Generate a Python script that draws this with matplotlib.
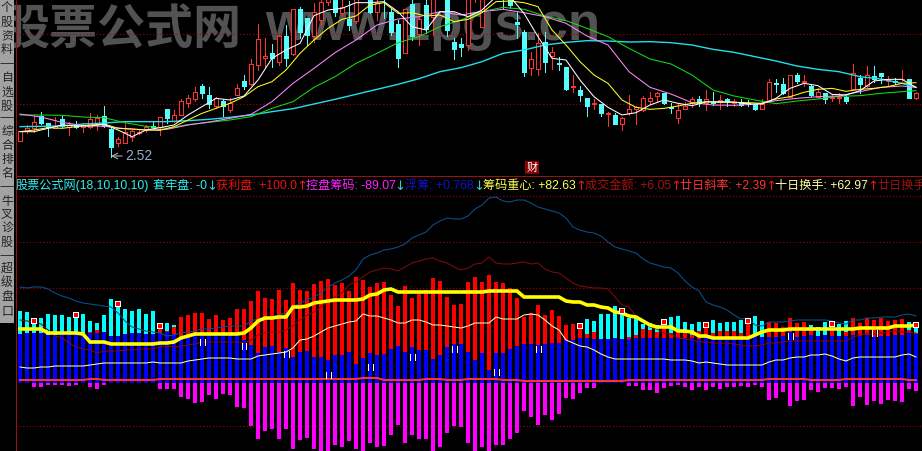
import numpy as np
import matplotlib
matplotlib.use('Agg')
import matplotlib.pyplot as plt

plt.rcParams['font.family'] = ['Liberation Sans', 'Noto Sans CJK SC', 'DejaVu Sans']

# upper panel, candles (1 unit = 1/3 px, clipped at 510 like the screen)
openP = [88,118,125,163,140,125,153,129,135,130,128,140,161,123,80,82,100,112,120,132,130,182,148,165,200,213,252,224,193,206,
         180,225,267,258,315,335,351,325,402,347,482,455,403,450,505,520,472,453,448,530,520,475,530,475,438,352,498,408,495,460,
         540,520,385,378,375,520,430,550,570,540,520,444,415,305,303,384,343,320,310,250,240,216,198,197,167,165,138,170,182,180,
         208,223,230,188,157,184,200,213,200,205,205,213,202,205,202,197,184,207,260,258,220,285,265,253,220,230,217,215,220,244,
         277,252,281,290,267,267,272,273,217]
closeP = [118,125,145,140,130,132,132,134,128,134,152,156,132,70,93,113,118,114,128,128,160,157,164,206,215,233,232,199,216,193,
          200,247,253,317,392,341,337,402,337,482,415,405,473,503,518,475,488,435,520,550,475,500,515,415,337,482,402,452,423,530,
          570,420,363,369,520,540,520,570,550,520,495,438,295,332,382,325,353,317,243,252,225,192,200,172,170,138,155,182,188,215,
          215,230,200,186,180,192,214,200,214,200,210,206,204,195,200,184,197,263,258,232,284,267,267,225,233,214,218,220,208,290,
          258,284,272,282,270,263,274,217,231]
highP = [118,135,165,173,140,160,162,145,146,142,170,165,192,125,98,140,120,120,135,148,160,184,180,212,225,248,258,248,220,212,
         215,258,285,332,438,397,378,405,435,482,490,455,500,515,525,530,520,507,530,560,530,520,540,485,450,482,515,460,515,540,
         580,530,397,397,525,550,530,580,580,550,530,473,420,353,410,415,368,340,310,285,252,216,213,197,173,170,160,225,192,222,
         233,235,232,200,200,205,220,222,240,235,225,217,213,213,210,197,213,273,273,276,284,291,285,258,245,232,228,230,225,318,
         285,312,312,292,282,275,300,273,235]
lowP = [88,112,115,137,103,125,130,105,125,115,125,120,130,40,73,80,87,108,115,125,105,142,145,165,190,207,217,185,185,163,
        175,225,243,255,300,310,310,315,312,345,397,375,385,435,495,463,465,420,440,525,470,450,455,405,310,350,390,375,410,405,
        530,402,333,342,360,505,430,540,540,485,485,395,282,285,285,295,303,300,240,235,208,162,183,162,132,138,120,165,138,178,
        198,205,198,172,142,182,190,192,180,195,183,193,192,193,192,180,184,205,234,228,218,260,253,223,215,202,207,202,202,242,
        230,250,265,260,252,258,268,217,213]

# moving averages, read every 2 bars (fast) and every 3 bars (slow)
fastIdx = list(range(0, 129, 2))
slowIdx = list(range(0, 129, 3)) + [128]
maWhite = [115,115,125,135,132,132,137,120,100,120,127,135,165,190,215,210,222,270,335,360,
           380,463,480,485,502,502,505,475,430,420,475,475,460,480,520,520,470,400,335,330,
           270,220,188,165,172,195,210,200,193,204,205,204,198,198,215,245,260,253,227,225,
           238,267,272,272,248]
maYellow = [115,120,127,125,130,135,138,125,123,120,119,130,150,170,185,200,220,250,265,300,
            350,390,425,452,462,495,502,470,472,462,465,445,452,472,505,507,502,490,420,375,
            325,285,260,210,188,182,185,192,200,205,203,203,202,200,213,220,233,242,245,236,
            242,245,250,260,262]
maPink = [168,159,143,133,131,124,120,122,135,144,155,167,205,260,305,352,390,435,453,460,
          475,465,475,482,472,460,440,402,375,295,248,228,202,195,194,197,208,215,220,222,
          235,248,252,248]
maGreen = [165,165,164,159,157,142,131,125,136,143,150,160,185,205,248,280,320,350,382,400,
           430,450,475,488,482,462,448,425,400,365,333,318,285,240,222,210,199,207,213,221,
           223,230,235,238]
maCyan = [130,131,132,138,141,145,145,145,148,152,158,165,175,184,198,212,227,242,257,274,
          295,307,325,350,360,375,383,388,387,384,385,382,375,362,353,340,327,312,302,295,
          280,273,260,248]

# lower panel (1 unit = 1 px above the zero line)
blueBar = [46,47,47,47,45,45,46,46,47,47,47,47,48,44,44,46,47,47,46,46,47,48,46,42,42,44,45,47,47,47,47,47,40,35,27,33,34,28,32,23,28,29,
           23,23,20,25,25,28,16,22,27,25,26,31,34,28,33,30,30,21,25,33,36,36,28,20,27,10,27,27,31,34,36,36,35,36,37,37,40,40,42,42,41,41,41,42,
           41,41,42,42,42,42,42,42,42,42,42,41,42,42,42,42,43,43,44,45,43,43,43,44,48,43,44,45,44,45,44,44,44,45,44,45,43,44,44,45,45,47,46]
redBar = [0,0,0,0,0,0,0,0,0,0,48,50,0,0,0,0,0,0,0,0,
          52,49,53,63,65,67,67,61,65,60,62,71,71,79,89,82,81,90,80,97,90,89,
          96,99,101,95,97,89,103,100,93,97,98,85,74,94,82,86,90,102,99,83,
          75,76,98,103,98,105,98,97,92,82,63,67,75,65,70,64,55,56,53,46,48,0,0,0,
          0,43,45,51,50,48,54,47,48,47,45,49,53,47,49,49,49,47,57,0,
          0,58,57,53,62,57,58,51,0,0,53,0,48,62,57,62,60,62,59,60,61,50,47]
cyanBar = [69,68,57,62,66,65,65,63,67,66,59,57,65,81,77,71,69,71,66,69,0,57,55] + [0] * 58 + \
          [61,59,66,66,74,66,62,63,56,57,55,0,63,64,58,56,58,0,60,57,58,58,60,59,64,59] + [0] * 6 + \
          [55,53,58,0,56,59] + [0] * 8 + [58,55]
magentaBar = [-3,-3,-7,-7,-5,-5,-5,-6,-5,-3,-7,-9,-5,-3,-3,-3,-3,-3,-3,-3,-9,-9,-9,-17,-19,-23,-22,-15,-19,-14,-15,-27,-28,-46,-59,-51,-49,-59,-49,-69,-60,-58,
              -69,-71,-71,-65,-67,-61,-69,-71,-63,-67,-66,-55,-45,-63,-55,-59,-59,-71,-67,-53,-46,-47,-63,-71,-67,-71,-65,-65,-59,-53,-31,-37,-45,-35,-40,-34,-18,-19,-13,-8,-8,-3,-3,-3,
              -2,-6,-6,-10,-10,-13,-8,-6,-5,-7,-10,-7,-10,-7,-9,-7,-7,-6,-7,-5,-7,-20,-18,-12,-26,-21,-20,-10,-12,-8,-8,-9,-7,-26,-17,-25,-21,-24,-20,-21,-22,-9,-11]
yellowLine = [51,51,51,51,47,47,47,47,47,46,38,38,38,36,36,36,36,36,36,36,37,37,38,42,44,46,46,46,46,46,46,46,47,52,59,62,62,63,63,73,73,74,
              77,78,79,80,80,80,80,81,85,86,90,91,88,88,88,88,88,88,88,88,88,88,88,88,88,89,89,89,89,89,83,83,83,83,83,83,79,78,78,75,75,73,72,68,
              67,64,63,59,55,53,53,53,49,49,48,44,44,42,42,42,42,42,42,45,48,50,50,50,51,51,51,51,51,51,51,51,51,51,52,52,52,52,52,54,54,54,55]
paleLine = [13,12,12,13,13,14,14,14,14,14,15,16,17,17,17,17,17,17,17,18,17,17,17,17,19,20,21,22,22,22,22,21,21,21,24,25,26,27,28,32,40,41,
            44,48,52,54,56,58,59,66,64,64,62,60,57,57,60,60,58,55,55,54,53,52,54,57,57,57,63,61,61,61,65,66,65,60,54,50,40,37,34,33,30,26,23,21,
            21,21,21,21,21,21,21,20,20,20,19,17,18,17,16,15,15,15,15,15,15,18,20,20,22,23,23,25,25,26,24,21,19,22,23,23,23,23,23,23,25,26,23]
darkBlueLine = [93,92,93,93,91,87,84,82,79,77,76,75,74,73,67,59,53,51,49,48,47,44,45,47,48,49,51,51,52,53,54,54,54,59,61,62,63,65,67,73,77,80,
                83,87,93,97,100,104,110,121,125,127,130,131,133,136,142,145,148,155,159,162,161,161,164,171,175,182,183,179,178,180,180,177,173,171,169,167,162,153,150,148,147,144,138,133,
                131,129,127,121,117,115,113,112,107,99,93,89,78,75,73,70,65,61,62,55,54,58,58,58,59,60,60,60,60,60,59,57,56,60,60,62,62,63,63,63,65,66,64]
darkRedLine = [60,59,58,56,50,44,42,37,33,31,30,27,29,29,29,30,30,31,31,31,33,34,33,34,35,36,38,38,38,38,38,38,37,40,45,47,48,48,50,54,60,65,
               68,73,78,83,87,95,98,103,108,110,112,111,109,113,117,119,121,122,119,117,113,110,112,116,117,123,117,116,116,117,118,116,117,111,108,107,102,97,94,93,92,92,91,83,
               75,73,64,60,53,51,47,46,42,41,40,38,38,37,37,37,36,35,34,34,35,37,37,38,39,39,39,39,39,39,39,39,39,43,45,46,46,47,48,49,48,48,47]
baseLine = [0]*10 + [1,1] + [0]*8 + [1]*29 + [2]*3 + [0]*6 + [1]*3 + [0]*3 + [1]*5 + [0]*3 + [-1]*15 + [0]*20 + [1]*6 + [0]*5 + [1]*9 + [0,0]

boxIdx = [2,8,14,20,80,86,92,98,104,116,128]
boxVal = [59,65,76,54,54,69,58,55,59,56,55]
tickIdx = [26,32,38,44,50,56,62,68,74,110,122]
tickVal = [38,34,26,5,13,23,31,8,31,44,47]

# header text, pieces are (x pixel, text, colour)
headerText = [(16, '股票公式网(18,10,10,10)', '#33eeee'), (153, '套牢盘: -0', '#33eeee'), (206, '↓', '#33cccc'),
              (216, '获利盘: +100.0', '#ee1111'), (296, '↑', '#ee1111'),
              (306, '控盘筹码: -89.07', '#ff22ff'), (394, '↓', '#33cccc'),
              (405, '浮筹: +0.768', '#1111cc'), (473, '↓', '#33cccc'),
              (483, '筹码重心: +82.63', '#ffff55'), (575, '↑', '#ee1111'),
              (585, '成交金额: +6.05', '#aa1111'), (670, '↑', '#ee1111'),
              (680, '廿日斜率: +2.39', '#ff3333'), (765, '↑', '#ee1111'),
              (775, '十日换手: +62.97', '#ffffa0'), (867, '↑', '#ee1111'),
              (877, '廿日换手', '#991111')]

sideChars = [('个', 8), ('股', 23), ('资', 36), ('料', 50), ('自', 78), ('选', 93), ('股', 107),
             ('综', 132), ('合', 146), ('排', 160), ('名', 174), ('牛', 202), ('叉', 215), ('诊', 229), ('股', 243),
             ('超', 269), ('级', 283), ('盘', 297), ('口', 312)]
sideLines = [63, 117, 186, 255]

idx = np.arange(len(blueBar))
W, H = 922, 451
fig = plt.figure(figsize=(W / 100, H / 100), dpi=100, facecolor='black')


def makeAxes(top, bottom, zorder):
    ax = fig.add_axes([16 / W, 1 - bottom / H, (W - 16) / W, (bottom - top) / H], zorder=zorder)
    ax.set_facecolor('none')
    ax.set_xlim((16 - 20) / 7, (W - 20) / 7)
    for s in ax.spines.values():
        s.set_visible(False)
    ax.set_xticks([])
    ax.tick_params(length=0, labelleft=False)
    return ax


# chrome behind the panels: watermark
back = fig.add_axes([0, 0, 1, 1], zorder=0)
back.set_xlim(0, W)
back.set_ylim(H, 0)
back.axis('off')
back.text(2, 45, '股票公式网', fontsize=34.6, color='#525252', fontweight='bold', family='Noto Sans CJK SC', va='baseline', clip_on=True)
back.text(265, 40, 'www.1pgs.cn', fontsize=38, color='#525252', fontweight='bold', family='Liberation Sans', va='baseline', clip_on=True)

top = makeAxes(0, 170, 1)
top.set_ylim(0, 510)
top.set_yticks([198, 408])
top.grid(axis='y', color='#aa0000', linestyle=(0, (1, 2)), linewidth=0.8)
top.set_axisbelow(True)

openArr, closeArr = np.array(openP), np.array(closeP)
upMask = closeArr > openArr
upCol, downCol = '#ff3232', '#54fcfc'
candleCol = [upCol if u else downCol for u in upMask]
top.vlines(idx, lowP, highP, colors=candleCol, linewidth=0.72, antialiased=False, zorder=2)
top.bar(idx, np.abs(closeArr - openArr), bottom=np.minimum(openArr, closeArr), width=4 / 7,
        color=['black' if u else downCol for u in upMask], edgecolor=candleCol, linewidth=0.72, antialiased=False, zorder=3)

top.plot(slowIdx, maCyan, color='#22ddee', linewidth=1.0, zorder=4)
top.plot(slowIdx, maGreen, color='#11dd11', linewidth=0.75, zorder=5)
top.plot(slowIdx, maPink, color='#ff88ff', linewidth=0.75, zorder=6)
top.plot(fastIdx, maYellow, color='#ffff22', linewidth=0.75, zorder=7)
top.plot(fastIdx, maWhite, color='#ffffff', linewidth=0.75, zorder=8)

lowI = int(np.argmin(lowP))
top.annotate(str(2.52), xy=(lowI, lowP[lowI] + 2), xytext=(lowI + 2, lowP[lowI] + 2), color='#93aecb', fontsize=10, va='center',
             arrowprops=dict(arrowstyle='->', color='#aaaaaa', linewidth=0.8, shrinkA=0, shrinkB=0), zorder=9)

low = makeAxes(176, 451, 1)
low.set_ylim(-71, 204)
low.set_yticks([-46, 92, 138, 184])
low.grid(axis='y', color='#aa0000', linestyle=(0, (1, 2)), linewidth=0.8)
low.set_axisbelow(True)

barW = 4 / 7
low.bar(idx, magentaBar, width=barW, color='#ff00ff', antialiased=False, zorder=2)
low.bar(idx, cyanBar, width=barW, color='#00ffff', antialiased=False, zorder=3)
low.bar(idx, redBar, width=barW, color='#ff0000', antialiased=False, zorder=4)
low.bar(idx, np.array(blueBar) + 3, bottom=-3, width=barW, color='#0000ff', antialiased=False, zorder=5)

low.plot(idx, darkBlueLine, color='#0d4f8f', linewidth=0.75, zorder=6)
low.plot(idx, darkRedLine, color='#7d0b0b', linewidth=0.75, zorder=6)
low.plot(idx, paleLine, color='#ffffa8', linewidth=0.75, zorder=7)
low.plot(idx, yellowLine, color='#ffff00', linewidth=2.6, solid_joinstyle='miter', zorder=8)
low.plot(idx, baseLine, color='#ff3030', linewidth=1.5, zorder=8)

low.scatter(boxIdx, boxVal, marker='s', s=25, color='white', linewidths=0, zorder=9)
low.scatter(boxIdx, boxVal, marker='s', s=9, color='#ff0000', linewidths=0, zorder=10)
tickX = np.array(tickIdx)
tickY = np.array(tickVal)
low.vlines(tickX - 2.5 / 7, tickY - 3, tickY + 3, colors='white', linewidth=0.72, antialiased=False, zorder=9)
low.vlines(tickX + 2.5 / 7, tickY - 3, tickY + 3, colors='white', linewidth=0.72, antialiased=False, zorder=9)

# chrome on top: sidebar, frame lines, header
front = fig.add_axes([0, 0, 1, 1], zorder=3)
front.set_xlim(0, W)
front.set_ylim(H, 0)
front.axis('off')
front.fill_between([0, 13.5], 0, 323, color='#a3a3a3', linewidth=0)
front.hlines(sideLines, 0, 13.5, colors='#333333', linewidth=0.72)
front.vlines(15.5, 0, H, colors='#991111', linewidth=0.72)
front.hlines(175.5, 15.5, W, colors='#991111', linewidth=0.72)
for ch, y in sideChars:
    front.text(7, y, ch, fontsize=8.6, color='#222222', ha='center', va='center')
for x, s, c in headerText:
    if s in '↑↓':
        front.text(x, 186, s, fontsize=9.5, color=c, ha='left', va='center', family='DejaVu Sans')
    else:
        front.text(x, 186, s, fontsize=8.7, color=c, ha='left', va='center', clip_on=True)
front.text(532, 167.5, '财', fontsize=8, color='white', ha='center', va='center',
           bbox=dict(facecolor='#8b0000', edgecolor='none', pad=1.2))

fig.savefig('out.png', dpi=100, facecolor='black')
